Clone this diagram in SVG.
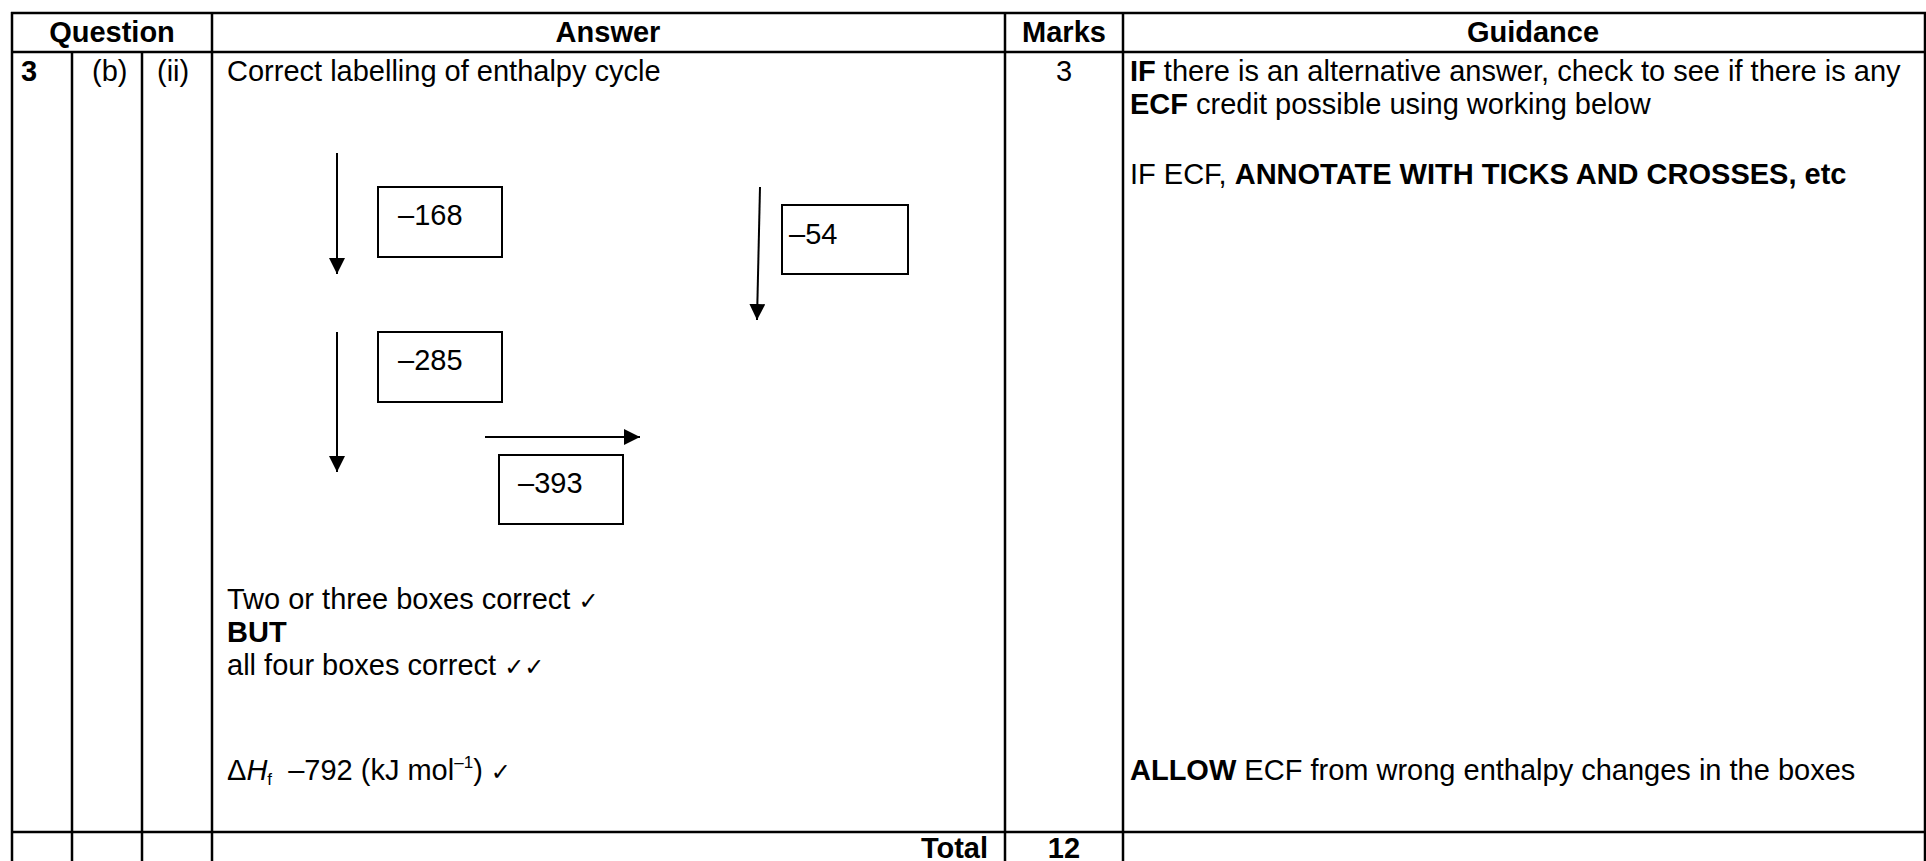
<svg xmlns="http://www.w3.org/2000/svg" width="1926" height="861" viewBox="0 0 1926 861">
<style>
text{font-family:"Liberation Sans",Arial,"DejaVu Sans",sans-serif;font-size:29px;fill:#000}
.b{font-weight:bold}
.c{text-anchor:middle}
.r{text-anchor:end}
.grid line{stroke:#000;stroke-width:2.5}
.box{fill:#fff;stroke:#000;stroke-width:2}
.conn line{stroke:#000;stroke-width:2}
.tk{font-family:"DejaVu Sans",sans-serif;font-size:24px}
</style>
<defs>
<marker id="ah" markerUnits="userSpaceOnUse" markerWidth="16" markerHeight="16" refX="16" refY="8" orient="auto" viewBox="0 0 16 16">
<path d="M0,0 L16,8 L0,16 z" fill="#000"/>
</marker>
</defs>
<rect x="0" y="0" width="1926" height="861" fill="#fff"/>
<g id="table" class="grid">
<line x1="11" y1="13" x2="1926" y2="13"/>
<line x1="11" y1="52" x2="1926" y2="52"/>
<line x1="11" y1="832" x2="1926" y2="832"/>
<line x1="12" y1="12" x2="12" y2="861"/>
<line x1="72" y1="52" x2="72" y2="861"/>
<line x1="142" y1="52" x2="142" y2="861"/>
<line x1="212" y1="12" x2="212" y2="861"/>
<line x1="1005" y1="12" x2="1005" y2="861"/>
<line x1="1123" y1="12" x2="1123" y2="861"/>
<line x1="1925" y1="12" x2="1925" y2="861"/>
</g>
<g id="headers">
<text class="b c" x="112" y="42">Question</text>
<text class="b c" x="608" y="42">Answer</text>
<text class="b c" x="1064" y="42">Marks</text>
<text class="b c" x="1533" y="42">Guidance</text>
</g>
<g id="question">
<text class="b" x="21" y="81">3</text>
<text x="92" y="81">(b)</text>
<text x="157" y="81">(ii)</text>
</g>
<g id="answer">
<text x="227" y="81">Correct labelling of enthalpy cycle</text>
<text x="227" y="609">Two or three boxes correct <tspan class="tk">✓</tspan></text>
<text class="b" x="227" y="642">BUT</text>
<text x="227" y="675">all four boxes correct <tspan class="tk">✓✓</tspan></text>
<text x="227" y="780" xml:space="preserve">Δ<tspan font-style="italic">H</tspan><tspan font-size="17" dy="5">f</tspan><tspan dy="-5">  –792 (kJ mol</tspan><tspan font-size="17" dy="-12">–1</tspan><tspan dy="12">) </tspan><tspan class="tk">✓</tspan></text>
<text class="b r" x="988" y="858">Total</text>
</g>
<g id="marks">
<text class="c" x="1064" y="81">3</text>
<text class="b c" x="1064" y="858">12</text>
</g>
<g id="guidance">
<text x="1130" y="81"><tspan class="b">IF</tspan> there is an alternative answer, check to see if there is any</text>
<text x="1130" y="114"><tspan class="b">ECF</tspan> credit possible using working below</text>
<text x="1130" y="184">IF ECF, <tspan class="b">ANNOTATE WITH TICKS AND CROSSES, etc</tspan></text>
<text x="1130" y="780"><tspan class="b">ALLOW</tspan> ECF from wrong enthalpy changes in the boxes</text>
</g>
<g id="box-168">
<rect class="box" x="378" y="187" width="124" height="70"/>
<text x="398" y="225">–168</text>
</g>
<g id="box-285">
<rect class="box" x="378" y="332" width="124" height="70"/>
<text x="398" y="370">–285</text>
</g>
<g id="box-54">
<rect class="box" x="782" y="205" width="126" height="69"/>
<text x="789" y="244">–54</text>
</g>
<g id="box-393">
<rect class="box" x="499" y="455" width="124" height="69"/>
<text x="518" y="493">–393</text>
</g>
<g id="connectors" class="conn">
<line x1="337" y1="153" x2="337" y2="274" marker-end="url(#ah)"/>
<line x1="337" y1="332" x2="337" y2="472" marker-end="url(#ah)"/>
<line x1="485" y1="437" x2="640" y2="437" marker-end="url(#ah)"/>
<line x1="760" y1="187" x2="757" y2="320" marker-end="url(#ah)"/>
</g>
</svg>
